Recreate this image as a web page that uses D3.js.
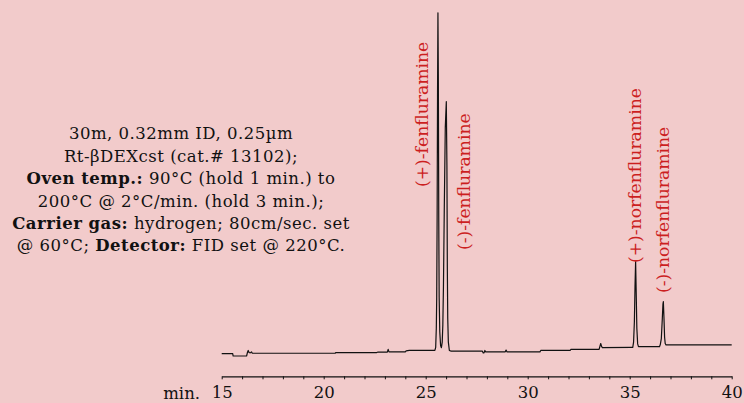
<!DOCTYPE html>
<html>
<head>
<meta charset="utf-8">
<script src="https://cdn.jsdelivr.net/npm/d3@7"></script>
<style>
  html, body { margin: 0; padding: 0; background: #f2cbcb; }
  svg { display: block; }
</style>
</head>
<body>
<script>
// ---- Data ----
const times = [
  15.00, 15.54, 15.56, 16.22, 16.26, 16.30, 16.34, 16.40, 16.46, 16.50,
  20.56, 20.60, 22.60, 22.64, 23.12, 23.16, 23.20, 24.00, 24.04, 24.20, 25.45,
  25.49, 25.52, 25.54, 25.56, 25.58, 25.60, 25.62, 25.64, 25.66, 25.69, 25.73, 25.77,
  25.81, 25.84, 25.87, 25.91, 25.96, 26.01, 26.04, 26.06, 26.08, 26.11, 26.16,
  26.25, 27.78, 27.82, 27.86, 27.90, 27.94, 28.90, 28.94, 28.98, 30.60, 30.64,
  32.08, 32.12, 33.50, 33.55, 33.58, 33.62, 33.66, 35.08,
  35.15, 35.19, 35.23, 35.26, 35.29, 35.32, 35.35, 35.39, 35.43,
  36.46, 36.50, 36.55, 36.60, 36.63, 36.65, 36.68, 36.71, 36.74, 36.78,
  40.00
];
const signal = [
  7, 7, 0, 0, 10, 16, 10, 9, 12, 8,
  8, 10, 10, 11, 11, 19, 12, 12, 15, 16, 16,
  25, 80, 170, 400, 750, 992, 800, 400, 170, 70, 30, 24,
  40, 90, 200, 420, 660, 735, 550, 260, 110, 40, 16,
  14, 14, 9, 9, 16, 12, 12, 17, 12, 12, 16,
  16, 19, 19, 30, 36, 28, 24, 25,
  25, 40, 100, 200, 273, 180, 80, 35, 27,
  27, 33, 50, 110, 150, 157, 110, 55, 36, 32,
  32
];
const majorTicks = [15, 20, 25, 30, 35, 40];
const minorTicks = d3.range(15, 41, 1);
const peakNames = ["(+)-fenfluramine", "(-)-fenfluramine", "(+)-norfenfluramine", "(-)-norfenfluramine"];
const peakTimes = [25.60, 26.01, 35.29, 36.65];
const axisUnit = "min.";
const conditionLines = [
  [["", "30m, 0.32mm ID, 0.25µm"]],
  [["", "Rt-βDEXcst (cat.# 13102);"]],
  [["b", "Oven temp.:"], ["", " 90°C (hold 1 min.) to"]],
  [["", "200°C @ 2°C/min. (hold 3 min.);"]],
  [["b", "Carrier gas:"], ["", " hydrogen; 80cm/sec. set"]],
  [["", "@ 60°C; "], ["b", "Detector:"], ["", " FID set @ 220°C."]]
];

// ---- Layout ----
const W = 744, H = 403;
const FONT = "'DejaVu Serif', serif";
const RED = "#cc1f1f";
const svg = d3.select("body").append("svg").attr("width", W).attr("height", H);
svg.append("rect").attr("width", W).attr("height", H).attr("fill", "#f2cbcb");

const x = d3.scaleLinear().domain([15, 40]).range([221.7, 731.7]);
const y = d3.scaleLinear().domain([0, 1000]).range([356, 10]);

// Axis
const axisY = 376.3;
const axis = d3.axisBottom(x)
  .tickValues(minorTicks)
  .tickSizeInner(3)
  .tickSizeOuter(0)
  .tickPadding(8)
  .tickFormat(d => majorTicks.includes(d) ? d : "");
const gAxis = svg.append("g").attr("transform", `translate(0,${axisY})`).call(axis);
gAxis.select(".domain").attr("stroke", "#111").attr("stroke-width", 1.2);
gAxis.selectAll(".tick line").attr("stroke", "#111").attr("stroke-width", 1);
gAxis.selectAll(".tick text").attr("font-family", FONT).attr("font-size", 16.5).attr("fill", "#111")
  .attr("dy", null).attr("dominant-baseline", null)
  .attr("y", 398.5 - axisY);
svg.append("text").attr("x", 200).attr("y", 398.5).attr("text-anchor", "end")
  .attr("font-family", FONT).attr("font-size", 16.5).attr("fill", "#111").text(axisUnit);

// Trace
const pts = times.map((t, i) => [t, signal[i]]);
const line = d3.line().x(d => x(d[0])).y(d => y(d[1]));
svg.append("path").datum(pts).attr("d", line)
  .attr("fill", "none").attr("stroke", "#111").attr("stroke-width", 1.2)
  .attr("stroke-linejoin", "round");

// Peak labels (offset from peak position)
const labelDx = [-10, 24, 5, 6];
const labelBottom = [187, 250, 263, 293];
svg.selectAll(".peaklab").data(peakNames).enter().append("text")
  .attr("class", "peaklab")
  .attr("transform", (d, i) => `translate(${x(peakTimes[i]) + labelDx[i]},${labelBottom[i]}) rotate(-90)`)
  .attr("font-family", FONT).attr("font-size", 17.2).attr("fill", RED)
  .text(d => d);

// Conditions text block
const cx = 181, by0 = 139.3, lh = 22.4;
conditionLines.forEach((parts, i) => {
  const t = svg.append("text").attr("x", cx).attr("y", by0 + i * lh)
    .attr("text-anchor", "middle").attr("font-family", FONT)
    .attr("font-size", 16.5).attr("letter-spacing", 0.5).attr("fill", "#111");
  parts.forEach(([style, s]) => {
    t.append("tspan").attr("font-weight", style === "b" ? "bold" : "normal")
      .style("white-space", "pre").text(s);
  });
});
</script>
</body>
</html>
